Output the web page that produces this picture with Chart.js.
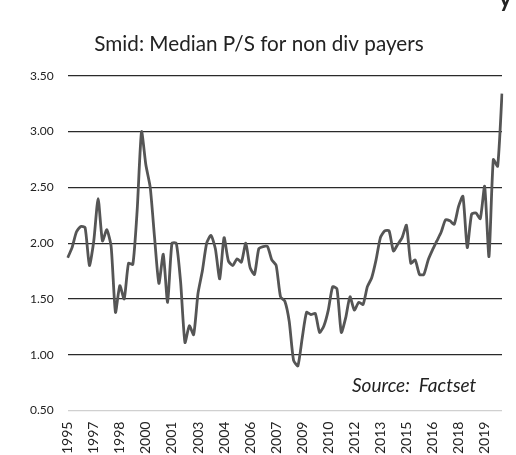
<!DOCTYPE html>
<html>
<head>
<meta charset="utf-8">
<script src="https://cdn.jsdelivr.net/npm/chart.js@4.4.1/dist/chart.umd.min.js"></script>
<style>
    html, body { margin: 0; padding: 0; background: #fff; overflow: hidden; }
    #wrap { position: relative; width: 516px; height: 457px; }
    #source {
        position: absolute; left: 352px; top: 373px;
        font-family: Lato, sans-serif; font-style: italic; font-size: 19px;
        color: #222; white-space: pre;
    }
    #cut {
        position: absolute; left: 499px; top: -17px;
        font-family: Lato, sans-serif; font-weight: bold; font-size: 24px; color: #222;
    }
</style>
</head>
<body>
<div id="wrap">
    <canvas id="psChart" width="516" height="457"></canvas>
    <div id="source">Source:  Factset</div>
    <div id="cut">y</div>
</div>
<script>
// Smid median P/S, non dividend payers, quarterly from Dec 1995 to Dec 2020
const firstQuarter = { year: 1995, month: 12 };
const quarterCount = 101;

const medianPS = [
    1.87, 1.96, 2.10, 2.15, 2.14, 1.80, 2.02, 2.40, 2.02, 2.12,
    1.97, 1.38, 1.62, 1.50, 1.82, 1.81, 2.30, 3.00, 2.70, 2.50,
    2.05, 1.64, 1.90, 1.47, 2.00, 2.00, 1.65, 1.11, 1.26, 1.18,
    1.55, 1.75, 2.00, 2.07, 1.95, 1.68, 2.05, 1.84, 1.80, 1.86,
    1.83, 2.00, 1.78, 1.72, 1.95, 1.97, 1.97, 1.85, 1.80, 1.52,
    1.48, 1.30, 0.95, 0.90, 1.15, 1.38, 1.36, 1.37, 1.20, 1.26,
    1.40, 1.61, 1.59, 1.20, 1.33, 1.52, 1.40, 1.47, 1.45, 1.61,
    1.69, 1.85, 2.05, 2.11, 2.11, 1.93, 1.99, 2.05, 2.16, 1.82,
    1.85, 1.72, 1.72, 1.85, 1.94, 2.02, 2.10, 2.21, 2.20, 2.17,
    2.33, 2.42, 1.96, 2.26, 2.27, 2.22, 2.51, 1.88, 2.75, 2.69,
    3.34
];

// every 6th quarter gets a year label
const tickYears = ['1995', '1997', '1998', '2000', '2001', '2003', '2004', '2006', '2007',
    '2009', '2010', '2012', '2013', '2015', '2016', '2018', '2019'];
const tickEvery = 6;

const yTicks = [0.5, 1.0, 1.5, 2.0, 2.5, 3.0, 3.5];

const quarterLabels = [];
for (let i = 0; i < quarterCount; i++) {
    const m = firstQuarter.month - 1 + i * 3;
    const year = firstQuarter.year + Math.floor(m / 12);
    quarterLabels.push((m % 12 + 1) + '/' + year);
}

const ctx = document.getElementById('psChart');
new Chart(ctx, {
    type: 'line',
    data: {
        labels: quarterLabels,
        datasets: [{
            data: medianPS,
            borderColor: '#555555',
            borderWidth: 2.8,
            pointRadius: 0,
            tension: 0.2,
            fill: false
        }]
    },
    options: {
        responsive: false,
        animation: false,
        layout: { padding: { top: 32, left: 16, right: 14, bottom: 0 } },
        plugins: {
            legend: { display: false },
            tooltip: { enabled: false },
            title: {
                display: true,
                text: 'Smid: Median P/S for non div payers',
                color: '#222',
                font: { family: 'Lato', size: 20.7, weight: 'normal' },
                padding: { top: 0, bottom: 19 }
            }
        },
        scales: {
            x: {
                grid: { display: false },
                border: { display: false },
                afterFit: (axis) => { axis.paddingLeft = 0; axis.paddingRight = 0; },
                ticks: {
                    autoSkip: false,
                    minRotation: 90,
                    maxRotation: 90,
                    padding: 3,
                    color: '#222',
                    font: { family: 'Lato', size: 14 },
                    callback: (value, index) => index % tickEvery === 0 ? tickYears[index / tickEvery] : ''
                }
            },
            y: {
                min: yTicks[0],
                max: yTicks[yTicks.length - 1],
                afterBuildTicks: (axis) => { axis.ticks = yTicks.map(v => ({ value: v })); },
                border: { display: false },
                grid: {
                    drawTicks: false,
                    lineWidth: 1.2,
                    color: (c) => c.tick && c.tick.value === 0.5 ? '#d0d0d0' : '#2a2a2a'
                },
                ticks: {
                    padding: 14,
                    color: '#222',
                    font: { family: 'Lato', size: 12 },
                    callback: (v) => Number(v).toFixed(2)
                }
            }
        }
    }
});
</script>
</body>
</html>
